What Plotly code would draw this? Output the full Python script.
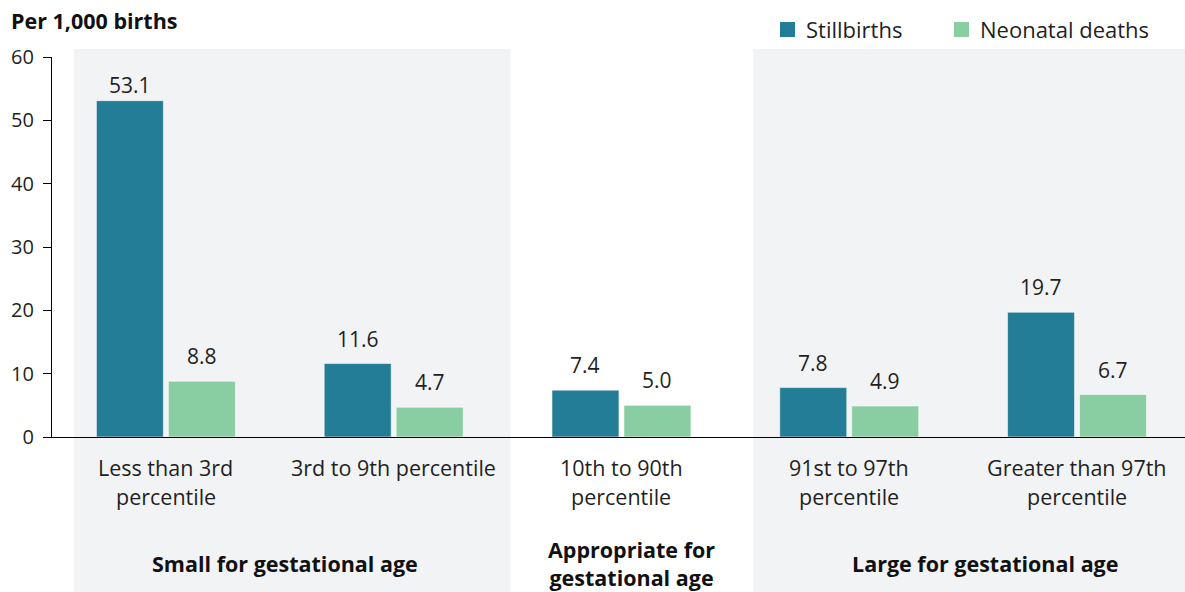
import plotly.graph_objects as go

# ---------------- data ----------------
categories = [
    ["Less than 3rd", "percentile"],
    ["3rd to 9th percentile"],
    ["10th to 90th", "percentile"],
    ["91st to 97th", "percentile"],
    ["Greater than 97th", "percentile"],
]
stillbirths = [53.1, 11.6, 7.4, 7.8, 19.7]
neonatal = [8.8, 4.7, 5.0, 4.9, 6.7]
series_names = ["Stillbirths", "Neonatal deaths"]
group_labels = [
    ["Small for gestational age"],
    ["Appropriate for", "gestational age"],
    ["Large for gestational age"],
]
y_ticks = [0, 10, 20, 30, 40, 50, 60]
y_title = "Per 1,000 births"

# ---------------- style ----------------
FONT = "Open Sans"
TXT = "#1f1f1f"
C_STILL = "#247d96"
C_NEO = "#89cda3"
COLORS = [C_STILL, C_NEO]
BAND = "#f2f3f5"

W, H = 1185, 592
ML, MR, MT, MB = 52, 0, 57, 155
PW, PH = W - ML - MR, H - MT - MB
Y_MAX = 60
x_idx = list(range(len(categories)))
X_MIN, X_MAX = -0.5, 4.474


def px_x(px):  # pixel -> paper x
    return (px - ML) / PW


def px_y(py):  # pixel (from top) -> paper y
    return (H - MB - py) / PH


fig = go.Figure()
for vals, name, col in zip([stillbirths, neonatal], series_names, COLORS):
    fig.add_trace(go.Bar(x=x_idx, y=vals, name=name, showlegend=False,
                         marker=dict(color=col, line=dict(color="rgba(255,255,255,0.55)", width=1)),
                         hoverinfo="y"))

# background bands
shapes = []
for x0, x1 in [(-0.4035, 1.513), (2.579, X_MAX + 0.2)]:
    shapes.append(dict(type="rect", xref="x", yref="paper", x0=x0, x1=x1,
                       y0=px_y(H + 5), y1=px_y(49), fillcolor=BAND, line_width=0, layer="below"))

annotations = []
# value labels (kept inside the chart top)
slot = 0.158
px_per_unit = PH / Y_MAX
for i in x_idx:
    for v, off in ((stillbirths[i], -slot), (neonatal[i], slot)):
        room = (Y_MAX - v) * px_per_unit
        gap = min(16, room - 37)
        annotations.append(dict(x=i + off, y=v, xref="x", yref="y", text=f"{v:.1f}",
                                showarrow=False, yanchor="bottom", yshift=gap - 7,
                                font=dict(family=FONT, size=21, color=TXT)))
# category labels
line_shifts = [-30, -59]
for i, lines in enumerate(categories):
    for j, t in enumerate(lines):
        annotations.append(dict(x=i, y=0, xref="x", yref="paper", text=t, showarrow=False,
                                yanchor="middle", yshift=line_shifts[j],
                                font=dict(family=FONT, size=21.5, color=TXT)))
# group labels
group_x = [0.522, 2.046, 3.596]
for gx, lines in zip(group_x, group_labels):
    annotations.append(dict(x=gx, y=0, xref="x", yref="paper",
                            text="<br>".join(f"<b>{t}</b>" for t in lines),
                            showarrow=False, yanchor="middle", yshift=-126.5,
                            font=dict(family=FONT, size=21.5, color="#111111")))

# axis title (top left)
annotations.append(dict(x=px_x(9), y=px_y(20), xref="paper", yref="paper",
                        text=f"<b>{y_title}</b>", showarrow=False, xanchor="left",
                        yanchor="middle", font=dict(family=FONT, size=21.5, color="#111111")))

# legend (manual)
leg_sq = [780, 954]
for name, col, sx in zip(series_names, COLORS, leg_sq):
    shapes.append(dict(type="rect", xref="paper", yref="paper",
                       x0=px_x(sx), x1=px_x(sx + 15), y0=px_y(37), y1=px_y(22),
                       fillcolor=col, line_width=0))
    annotations.append(dict(x=px_x(sx + 24), y=px_y(29.5), xref="paper", yref="paper",
                            text=name, showarrow=False, xanchor="left", yanchor="middle",
                            font=dict(family=FONT, size=22, color=TXT)))

fig.update_layout(
    width=W, height=H,
    margin=dict(l=ML, r=MR, t=MT, b=MB, autoexpand=False),
    paper_bgcolor="white", plot_bgcolor="rgba(0,0,0,0)",
    barmode="group", bargap=0.368, bargroupgap=0.0694,
    font=dict(family=FONT, color=TXT),
    showlegend=False,
    xaxis=dict(range=[X_MIN, X_MAX], showticklabels=False, ticks="", showgrid=False,
               zeroline=False, showline=True, linecolor="#000000", linewidth=1.3,
               fixedrange=True),
    yaxis=dict(range=[0, Y_MAX], tickvals=y_ticks, showgrid=False, zeroline=False,
               showline=True, linecolor="#000000", linewidth=1.3, ticks="outside",
               ticklen=8, tickcolor="#000000", tickwidth=1.3, ticklabelstandoff=5,
               tickfont=dict(family=FONT, size=20, color=TXT), fixedrange=True),
    shapes=shapes, annotations=annotations,
)

fig.write_html("out.html", config={"displayModeBar": False},
               post_script="document.body.style.margin='0';document.body.style.overflow='hidden';")
